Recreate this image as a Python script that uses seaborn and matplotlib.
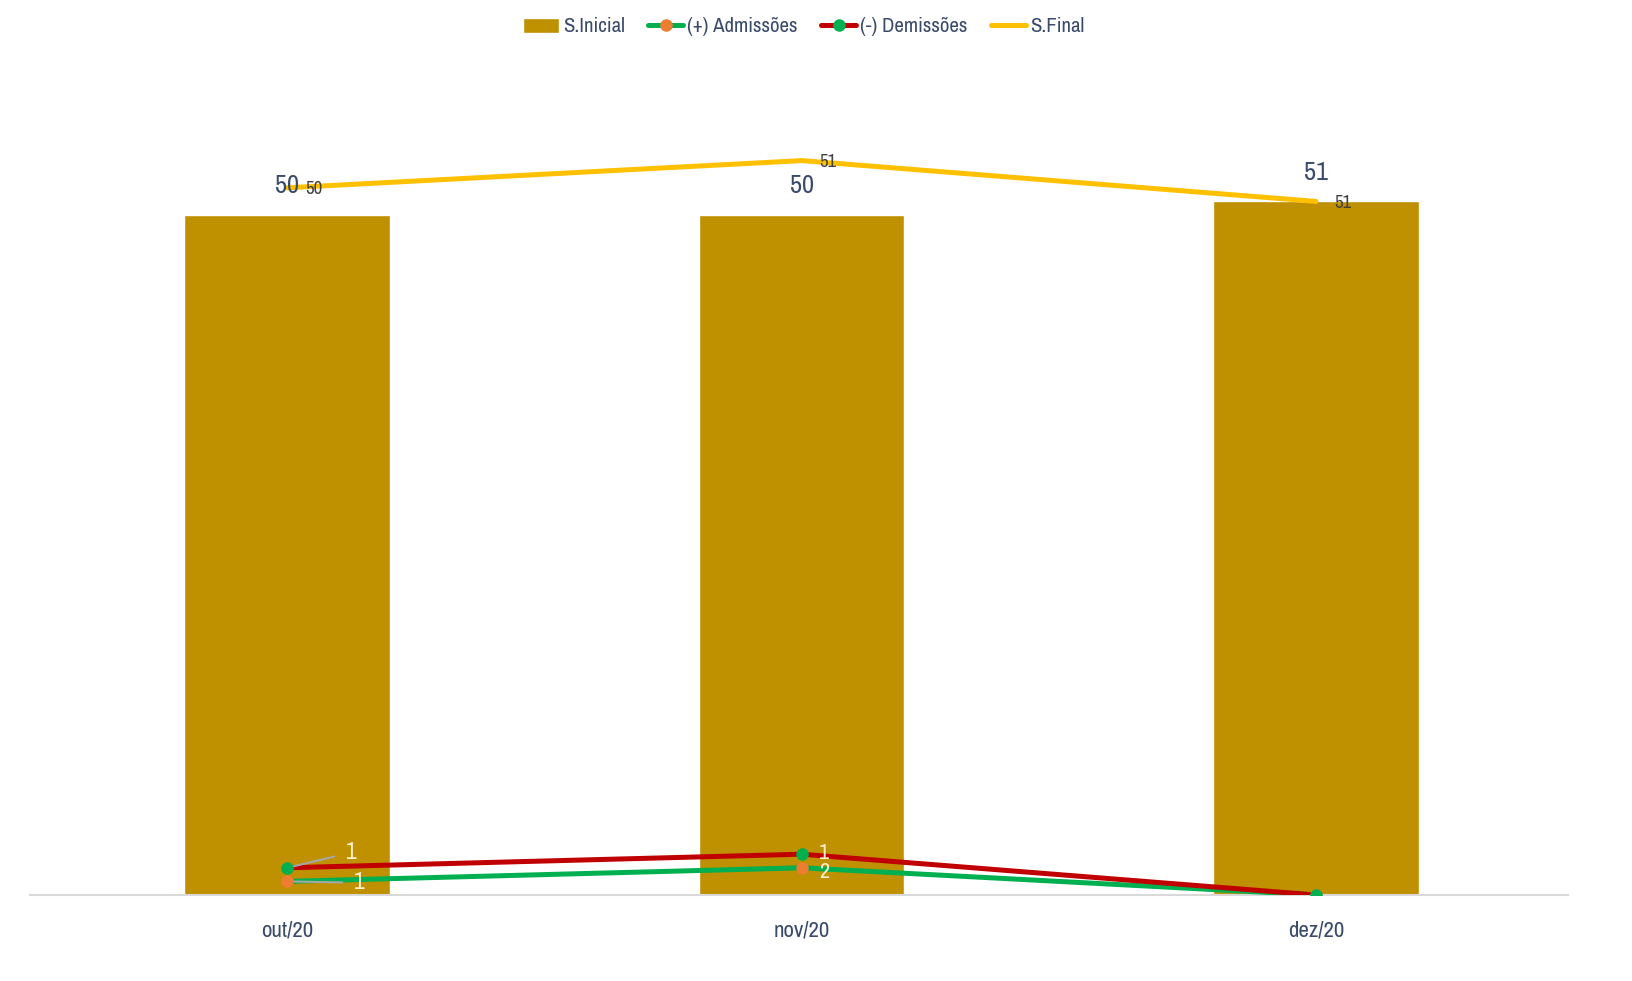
import matplotlib
matplotlib.use("Agg")
import matplotlib.pyplot as plt
import seaborn as sns
import pandas as pd
import numpy as np
from matplotlib.patches import Patch
from matplotlib.lines import Line2D
from matplotlib import font_manager

meses = ["out/20", "nov/20", "dez/20"]
s_inicial = [50, 50, 51]
admissoes = [1, 2, 0]
demissoes = [1, 1, 0]
s_final = [50, 51, 51]

BAR_COLOR = "#BF9000"
GREEN = "#00B050"
RED = "#C00000"
ORANGE = "#ED7D31"
YELLOW = "#FFC000"
TEXT = "#3A4A6B"

sns.set_style("white")
narrow = sorted({f.name for f in font_manager.fontManager.ttflist if "Narrow" in f.name})
plt.rcParams["font.family"] = narrow[:1] + ["DejaVu Sans"]
plt.rcParams["font.stretch"] = "condensed"

fig = plt.figure(figsize=(16.32, 9.81), dpi=100)
ax = fig.add_axes([30 / 1632, 86 / 981, 1538 / 1632, 816 / 981])

df = pd.DataFrame({"mes": meses, "S.Inicial": s_inicial})
sns.barplot(data=df, x="mes", y="S.Inicial", color=BAR_COLOR, width=0.4,
            saturation=1, ax=ax, zorder=1)

# excel "stacked line": each series sits on top of the previous one
cum_adm = np.array(admissoes)
cum_dem = cum_adm + np.array(demissoes)
cum_fin = cum_dem + np.array(s_final)
x = np.arange(len(meses))

ax.plot(x, cum_adm, color=GREEN, lw=3.6, zorder=3, solid_capstyle="round")
ax.plot(x, cum_adm, ls="none", marker="o", ms=8, color=ORANGE, zorder=4)
ax.plot(x, cum_dem, color=RED, lw=3.6, zorder=3, solid_capstyle="round")
ax.plot(x, cum_dem, ls="none", marker="o", ms=8, color=GREEN, zorder=4)
ax.plot(x, cum_fin, color=YELLOW, lw=3.6, zorder=3, solid_capstyle="round")

# bar labels
for xi, v in zip(x, s_inicial):
    ax.annotate(str(v), (xi, v), xytext=(0, 21), textcoords="offset points",
                ha="center", va="center", fontsize=19, color=TEXT)

# S.Final labels
for xi, yv, v in zip(x, cum_fin, s_final):
    ax.annotate(str(v), (xi, yv), xytext=(19, -1), textcoords="offset points",
                ha="center", va="center", fontsize=13.5, color="#404040")

# admissoes / demissoes labels (zero values hidden)
lbl_col = "#FFF2CC"
ax.annotate(str(demissoes[0]), (0, cum_dem[0]), xytext=(46, 11),
            textcoords="offset points", ha="center", va="center",
            fontsize=17, color=lbl_col,
            arrowprops=dict(arrowstyle="-", color="#A6A6A6", lw=1.5,
                            shrinkA=6, shrinkB=1))
ax.annotate(str(admissoes[0]), (0, cum_adm[0]), xytext=(52, -1),
            textcoords="offset points", ha="center", va="center",
            fontsize=17, color=lbl_col,
            arrowprops=dict(arrowstyle="-", color="#A6A6A6", lw=1.5,
                            shrinkA=6, shrinkB=1))
ax.annotate(str(demissoes[1]), (1, cum_dem[1]), xytext=(16, 1),
            textcoords="offset points", ha="center", va="center",
            fontsize=16, color=lbl_col)
ax.annotate(str(admissoes[1]), (1, cum_adm[1]), xytext=(16, -3),
            textcoords="offset points", ha="center", va="center",
            fontsize=16, color=lbl_col)

ax.set_xlim(-0.5, 2.49)
ax.set_ylim(0, 60)
ax.set_xlabel("")
ax.set_ylabel("")
ax.set_yticks([])
ax.tick_params(axis="x", length=0, labelsize=16.5, labelcolor=TEXT, pad=18)
for s in ["top", "left", "right"]:
    ax.spines[s].set_visible(False)
ax.spines["bottom"].set_color("#D9D9D9")
ax.spines["bottom"].set_linewidth(1.5)

handles = [
    Patch(facecolor=BAR_COLOR, label="S.Inicial"),
    Line2D([], [], color=GREEN, lw=3.6, marker="o", ms=8,
           markerfacecolor=ORANGE, markeredgecolor=ORANGE, label="(+) Admissões"),
    Line2D([], [], color=RED, lw=3.6, marker="o", ms=8,
           markerfacecolor=GREEN, markeredgecolor=GREEN, label="(-) Demissões"),
    Line2D([], [], color=YELLOW, lw=3.6, label="S.Final"),
]
fig.legend(handles=handles, loc="center", bbox_to_anchor=(804 / 1632, 1 - 27 / 981),
           ncol=4, frameon=False, fontsize=15, labelcolor=TEXT,
           handlelength=1.7, handletextpad=0.2, columnspacing=1.1)

fig.savefig("out.png", dpi=100)
